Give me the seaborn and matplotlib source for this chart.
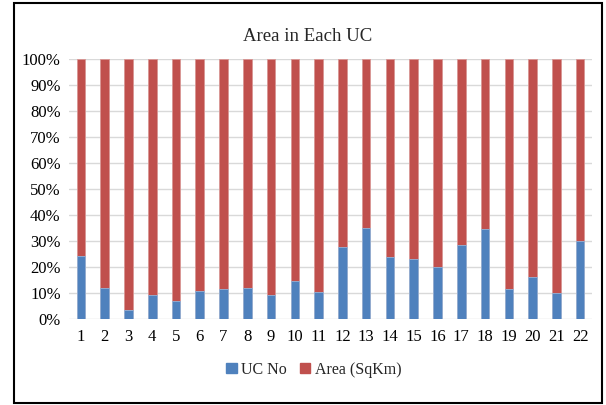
import matplotlib
matplotlib.use("Agg")
import matplotlib.pyplot as plt
import matplotlib.patches as mpatches
import seaborn as sns
import pandas as pd

uc_labels = [str(i) for i in range(1, 23)]
uc_no_share = [24.2, 11.8, 3.5, 9.4, 6.9, 10.9, 11.5, 11.9, 9.4, 14.5, 10.4,
               27.6, 35.0, 23.8, 23.2, 19.9, 28.3, 34.7, 11.5, 16.3, 10.1, 30.1]
area_share = [100 - v for v in uc_no_share]
series_names = ["UC No", "Area (SqKm)"]
yticks = [0, 10, 20, 30, 40, 50, 60, 70, 80, 90, 100]

blue = "#4F81BD"
red = "#C0504D"

sns.set_theme(style="white")
plt.rcParams["font.family"] = ["Liberation Serif", "DejaVu Serif"]

df = pd.DataFrame({"uc": uc_labels, "blue": uc_no_share,
                   "total": [a + b for a, b in zip(uc_no_share, area_share)]})

fig = plt.figure(figsize=(6.06, 4.05), dpi=100)
ax = fig.add_axes([0.1139, 0.2123, 0.863, 0.642])

sns.barplot(data=df, x="uc", y="total", color=red, width=0.36, ax=ax,
            edgecolor="#D99694", linewidth=0.6, saturation=1)
sns.barplot(data=df, x="uc", y="blue", color=blue, width=0.36, ax=ax,
            edgecolor="#95B3D7", linewidth=0.6, saturation=1)

ax.set_xlim(-0.5, len(uc_labels) - 0.5)
ax.set_ylim(0, 100)
ax.set_yticks(yticks)
ax.set_yticklabels([f"{t}%" for t in yticks])
ax.set_xlabel("")
ax.set_ylabel("")
ax.yaxis.grid(True, color="#D9D9D9", linewidth=1)
ax.set_axisbelow(True)
for s in ax.spines.values():
    s.set_visible(False)
ax.tick_params(axis="both", length=0, labelsize=12, colors="#000000", pad=6)
ax.tick_params(axis="x", pad=7)

fig.text(0.508, 0.911, "Area in Each UC", ha="center", va="center", fontsize=13.5)

handles = [mpatches.Patch(color=blue, label=series_names[0]),
           mpatches.Patch(color=red, label=series_names[1])]
fig.legend(handles=handles, loc="center", bbox_to_anchor=(0.518, 0.087), ncol=2,
           frameon=False, fontsize=11.5, handlelength=0.65, handleheight=0.65,
           handletextpad=0.3, columnspacing=0.8)

border = mpatches.Rectangle((14 / 606, 2 / 405), (602 - 14) / 606, (403 - 2) / 405 - 0.002,
                            transform=fig.transFigure, fill=False, edgecolor="black",
                            linewidth=1.5)
fig.patches.append(border)

fig.savefig("out.png", dpi=100)
